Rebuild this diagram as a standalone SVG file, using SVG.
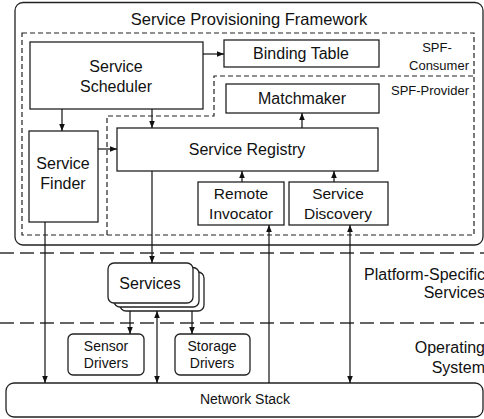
<svg xmlns="http://www.w3.org/2000/svg" width="484" height="419" viewBox="0 0 484 419">
<style>
text{font-family:"Liberation Sans",Arial,sans-serif;fill:#111;}
.box{fill:#fff;stroke:#222;stroke-width:1.3;}
.dash{fill:none;stroke:#222;stroke-width:1.2;stroke-dasharray:5,3;}
.layer{fill:none;stroke:#333;stroke-width:1.3;stroke-dasharray:14,6;}
.c{stroke:#111;stroke-width:1.2;fill:none;}
.t16{font-size:16px;text-anchor:middle;}
.t15{font-size:15.5px;text-anchor:middle;}
.t14{font-size:14px;text-anchor:middle;}
.lbl{font-size:13px;}
.big{font-size:16px;text-anchor:end;}
</style>
<defs>
<marker id="ah" viewBox="0 0 8 8" refX="8" refY="4" markerWidth="7" markerHeight="7" markerUnits="userSpaceOnUse" orient="auto-start-reverse">
<path d="M0,0.8 L8,4 L0,7.2 Z" fill="#111"/>
</marker>
</defs>
<g id="layers">
<line class="layer" x1="0" y1="253" x2="484" y2="253"/>
<line class="layer" x1="0" y1="323" x2="484" y2="323"/>
<text class="big" x="485" y="280">Platform-Specific</text>
<text class="big" x="485" y="298">Services</text>
<text class="big" x="485" y="353">Operating</text>
<text class="big" x="485" y="373">System</text>
</g>
<g id="framework">
<rect class="box" x="15" y="2.5" width="468" height="242.5" rx="8"/>
<text class="t16" x="249" y="25" style="font-size:16.5px">Service Provisioning Framework</text>
</g>
<g id="spf-consumer">
<rect class="dash" x="22" y="33" width="452" height="202"/>
<text class="lbl" x="437" y="52" text-anchor="middle">SPF-</text>
<text class="lbl" x="439" y="70" text-anchor="middle">Consumer</text>
</g>
<g id="spf-provider">
<polyline class="dash" points="107,235 107,116 214,116 214,76 474,76"/>
<text class="lbl" x="469" y="95" text-anchor="end">SPF-Provider</text>
</g>
<g id="service-scheduler">
<rect class="box" x="30" y="42" width="173" height="67"/>
<text class="t16" x="116" y="72">Service</text>
<text class="t16" x="116" y="92">Scheduler</text>
</g>
<g id="binding-table">
<rect class="box" x="224" y="40" width="155" height="27"/>
<text class="t16" x="301" y="59">Binding Table</text>
</g>
<g id="matchmaker">
<rect class="box" x="226" y="84" width="153" height="29"/>
<text class="t16" x="302" y="104">Matchmaker</text>
</g>
<g id="service-registry">
<rect class="box" x="117" y="128" width="261" height="43"/>
<text class="t16" x="247" y="155">Service Registry</text>
</g>
<g id="service-finder">
<rect class="box" x="29" y="131" width="69" height="91"/>
<text class="t16" x="63" y="169">Service</text>
<text class="t16" x="63" y="189">Finder</text>
</g>
<g id="remote-invocator">
<rect class="box" x="198" y="182" width="86" height="43"/>
<text class="t15" x="241" y="199">Remote</text>
<text class="t15" x="241" y="219">Invocator</text>
</g>
<g id="service-discovery">
<rect class="box" x="289" y="182" width="99" height="43"/>
<text class="t15" x="338" y="199">Service</text>
<text class="t15" x="338" y="219">Discovery</text>
</g>
<g id="services">
<rect class="box" x="120" y="272" width="84" height="39" rx="6"/>
<rect class="box" x="114" y="267.5" width="85" height="39.5" rx="6"/>
<rect class="box" x="108" y="263" width="85" height="40" rx="6"/>
<text class="t16" x="150" y="289">Services</text>
</g>
<g id="sensor-drivers">
<rect class="box" x="68" y="334" width="76" height="41" rx="5"/>
<text class="t14" x="106" y="351">Sensor</text>
<text class="t14" x="106" y="368">Drivers</text>
</g>
<g id="storage-drivers">
<rect class="box" x="175" y="334" width="75" height="41" rx="5"/>
<text class="t14" x="212" y="351">Storage</text>
<text class="t14" x="212" y="368">Drivers</text>
</g>
<g id="network-stack">
<rect class="box" x="6" y="383" width="477" height="34" rx="8"/>
<text class="t14" x="245" y="404">Network Stack</text>
</g>
<g id="connectors">
<line class="c" x1="203" y1="54" x2="224" y2="54" marker-end="url(#ah)"/>
<line class="c" x1="62" y1="109" x2="62" y2="131" marker-end="url(#ah)"/>
<line class="c" x1="152" y1="109" x2="152" y2="128" marker-end="url(#ah)"/>
<line class="c" x1="98" y1="149" x2="117" y2="149" marker-end="url(#ah)"/>
<line class="c" x1="302" y1="128" x2="302" y2="113" marker-end="url(#ah)"/>
<line class="c" x1="242" y1="182" x2="242" y2="171" marker-end="url(#ah)"/>
<line class="c" x1="334" y1="182" x2="334" y2="171" marker-end="url(#ah)"/>
<line class="c" x1="152" y1="171" x2="152" y2="263" marker-end="url(#ah)"/>
<line class="c" x1="45" y1="222" x2="45" y2="383" marker-end="url(#ah)"/>
<line class="c" x1="269" y1="383" x2="269" y2="225" marker-end="url(#ah)"/>
<line class="c" x1="350" y1="225" x2="350" y2="383" marker-start="url(#ah)" marker-end="url(#ah)"/>
<line class="c" x1="130" y1="311" x2="130" y2="334" marker-end="url(#ah)"/>
<line class="c" x1="192" y1="311" x2="192" y2="334" marker-end="url(#ah)"/>
<line class="c" x1="157" y1="311" x2="157" y2="383" marker-start="url(#ah)" marker-end="url(#ah)"/>
</g>
</svg>
